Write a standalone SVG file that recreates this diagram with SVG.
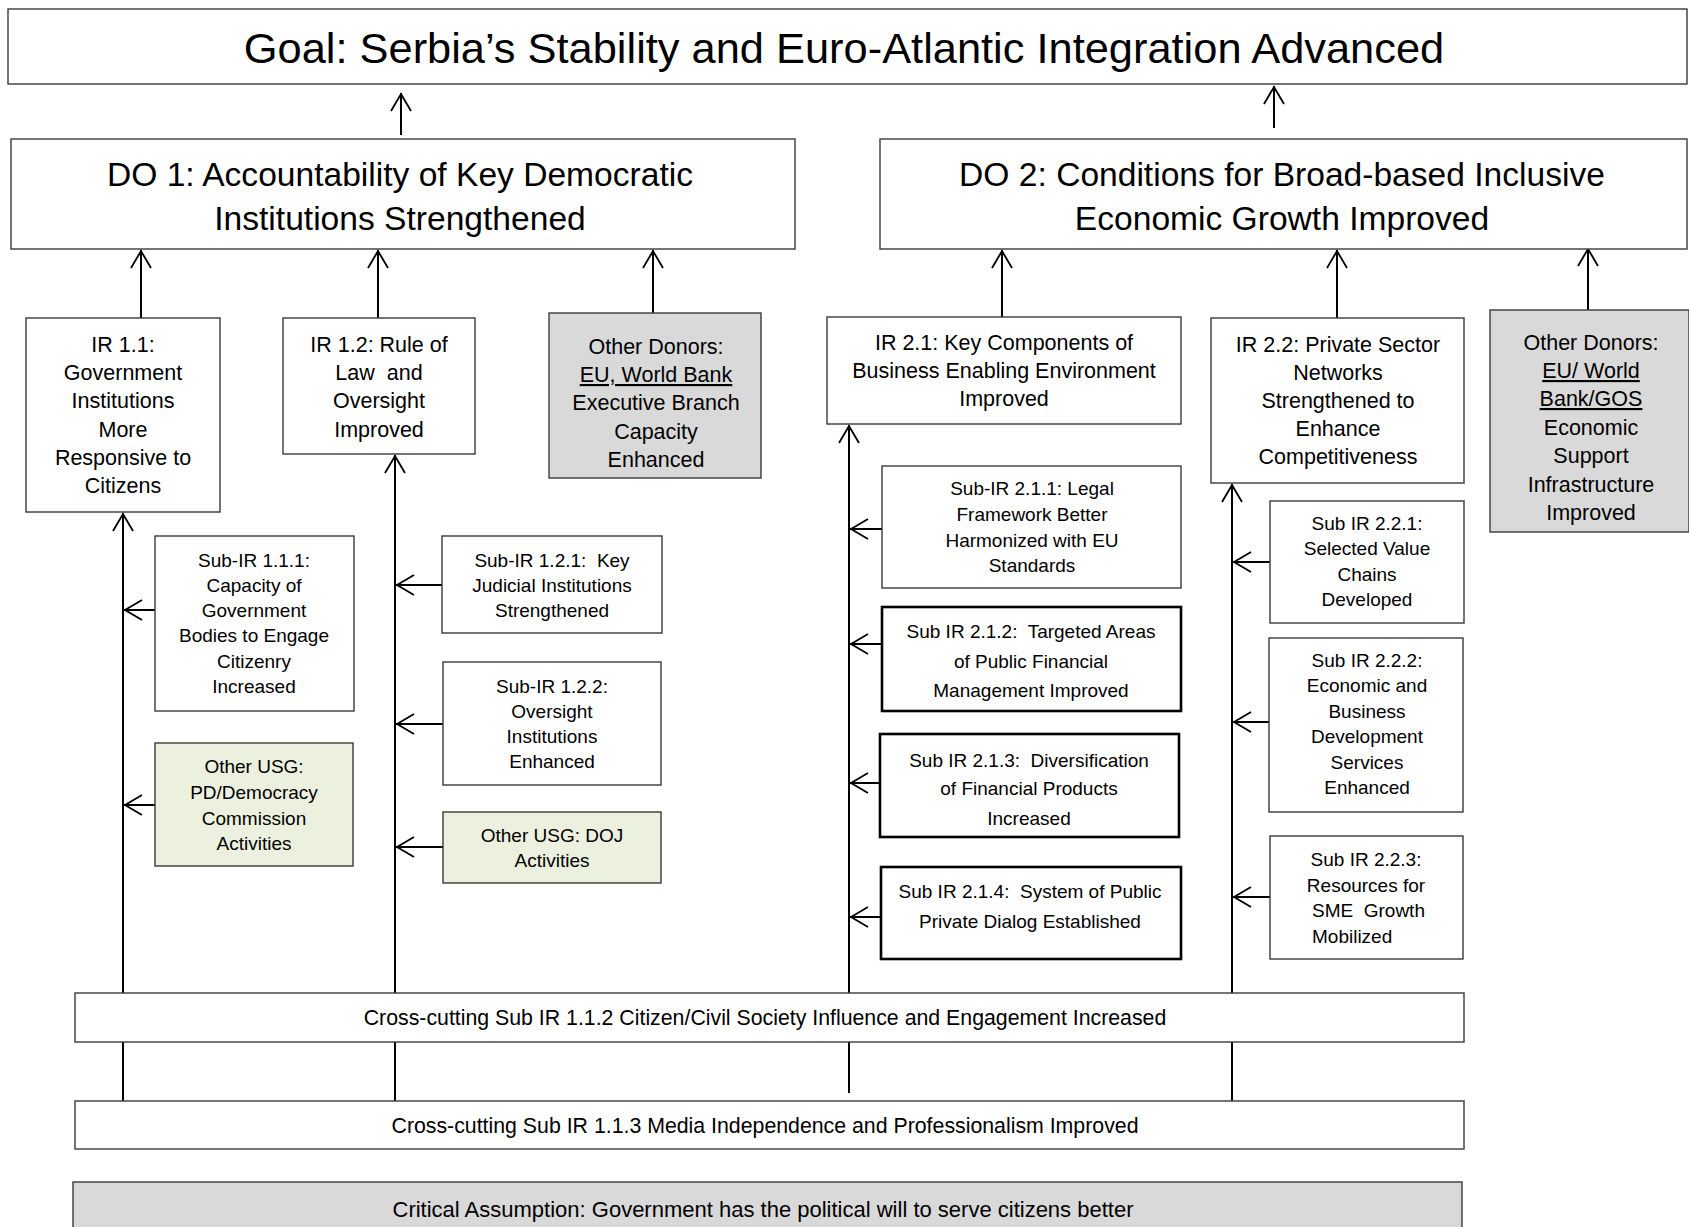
<svg xmlns="http://www.w3.org/2000/svg" width="1689" height="1227" viewBox="0 0 1689 1227">
<style>
text{font-family:"Liberation Sans",Arial,sans-serif;fill:#000;text-anchor:middle}
.box{fill:#fff;stroke:#3a3a3a;stroke-width:1.4}
.thick{fill:#fff;stroke:#000;stroke-width:2.6}
.grey{fill:#d9d9d9;stroke:#3a3a3a;stroke-width:1.4}
.green{fill:#ebf1de;stroke:#3a3a3a;stroke-width:1.4}
.tg{font-size:43.4px}
.td{font-size:33.6px}
.ti{font-size:21.5px}
.ts{font-size:19px}
.tc{font-size:21.3px}
.ta{font-size:22px}
.l{text-anchor:start}
.u{text-decoration:underline}
#connectors line{stroke:#000;stroke-width:2;marker-end:url(#ah)}
</style>
<defs>
<marker id="ah" markerUnits="userSpaceOnUse" markerWidth="30" markerHeight="30" viewBox="-22 -15 30 30" refX="0" refY="0" orient="auto">
<path d="M-18,-10 L-1,0 L-18,10" fill="none" stroke="#000" stroke-width="1.8"/>
</marker>
</defs>
<rect width="1689" height="1227" fill="#fff"/>
<g id="connectors">
<line x1="401" y1="135" x2="401" y2="93"/>
<line x1="1274" y1="128" x2="1274" y2="86"/>
<line x1="141" y1="318" x2="141" y2="250"/>
<line x1="378" y1="318" x2="378" y2="250"/>
<line x1="653" y1="313" x2="653" y2="250"/>
<line x1="1002" y1="317" x2="1002" y2="250"/>
<line x1="1337" y1="318" x2="1337" y2="250"/>
<line x1="1588" y1="310" x2="1588" y2="248"/>
<line x1="123" y1="1101" x2="123" y2="513"/>
<line x1="395" y1="1101" x2="395" y2="455"/>
<line x1="849" y1="1093" x2="849" y2="425"/>
<line x1="1232" y1="1101" x2="1232" y2="484"/>
<line x1="155" y1="610" x2="124" y2="610"/>
<line x1="155" y1="805" x2="124" y2="805"/>
<line x1="442" y1="585" x2="396" y2="585"/>
<line x1="443" y1="724" x2="396" y2="724"/>
<line x1="443" y1="847" x2="396" y2="847"/>
<line x1="882" y1="529" x2="850" y2="529"/>
<line x1="882" y1="644" x2="850" y2="644"/>
<line x1="880" y1="783" x2="850" y2="783"/>
<line x1="881" y1="917" x2="850" y2="917"/>
<line x1="1270" y1="562" x2="1233" y2="562"/>
<line x1="1269" y1="722" x2="1233" y2="722"/>
<line x1="1270" y1="897" x2="1233" y2="897"/>
</g>
<g id="goal">
<rect class="box" x="8" y="9" width="1679" height="75"/>
<text class="tg" x="844" y="63">Goal: Serbia’s Stability and Euro-Atlantic Integration Advanced</text>
</g>
<g id="do1">
<rect class="box" x="11" y="139" width="784" height="110"/>
<text class="td" x="400" y="186">DO 1: Accountability of Key Democratic</text>
<text class="td" x="400" y="230">Institutions Strengthened</text>
</g>
<g id="do2">
<rect class="box" x="880" y="139" width="807" height="110"/>
<text class="td" x="1282" y="186">DO 2: Conditions for Broad-based Inclusive</text>
<text class="td" x="1282" y="230">Economic Growth Improved</text>
</g>
<g id="ir11">
<rect class="box" x="26" y="318" width="194" height="194"/>
<text class="ti" x="123" y="352">IR 1.1:</text>
<text class="ti" x="123" y="380">Government</text>
<text class="ti" x="123" y="408">Institutions</text>
<text class="ti" x="123" y="437">More</text>
<text class="ti" x="123" y="465">Responsive to</text>
<text class="ti" x="123" y="493">Citizens</text>
</g>
<g id="ir12">
<rect class="box" x="283" y="318" width="192" height="136"/>
<text class="ti" x="379" y="352">IR 1.2: Rule of</text>
<text class="ti" x="379" y="380" xml:space="preserve">Law  and</text>
<text class="ti" x="379" y="408">Oversight</text>
<text class="ti" x="379" y="437">Improved</text>
</g>
<g id="od1">
<rect class="grey" x="549" y="313" width="212" height="165"/>
<text class="ti" x="656" y="354">Other Donors:</text>
<text class="ti u" x="656" y="382">EU, World Bank</text>
<text class="ti" x="656" y="410">Executive Branch</text>
<text class="ti" x="656" y="439">Capacity</text>
<text class="ti" x="656" y="467">Enhanced</text>
</g>
<g id="ir21">
<rect class="box" x="827" y="317" width="354" height="107"/>
<text class="ti" x="1004" y="350">IR 2.1: Key Components of</text>
<text class="ti" x="1004" y="378">Business Enabling Environment</text>
<text class="ti" x="1004" y="406">Improved</text>
</g>
<g id="ir22">
<rect class="box" x="1211" y="318" width="253" height="165"/>
<text class="ti" x="1338" y="352">IR 2.2: Private Sector</text>
<text class="ti" x="1338" y="380">Networks</text>
<text class="ti" x="1338" y="408">Strengthened to</text>
<text class="ti" x="1338" y="436">Enhance</text>
<text class="ti" x="1338" y="464">Competitiveness</text>
</g>
<g id="od2">
<rect class="grey" x="1490" y="310" width="199" height="222"/>
<text class="ti" x="1591" y="350">Other Donors:</text>
<text class="ti u" x="1591" y="378">EU/ World</text>
<text class="ti u" x="1591" y="406">Bank/GOS</text>
<text class="ti" x="1591" y="435">Economic</text>
<text class="ti" x="1591" y="463">Support</text>
<text class="ti" x="1591" y="492">Infrastructure</text>
<text class="ti" x="1591" y="520">Improved</text>
</g>
<g id="sub111">
<rect class="box" x="155" y="536" width="199" height="175"/>
<text class="ts" x="254" y="567">Sub-IR 1.1.1:</text>
<text class="ts" x="254" y="592">Capacity of</text>
<text class="ts" x="254" y="617">Government</text>
<text class="ts" x="254" y="642">Bodies to Engage</text>
<text class="ts" x="254" y="668">Citizenry</text>
<text class="ts" x="254" y="693">Increased</text>
</g>
<g id="usg-pd">
<rect class="green" x="155" y="743" width="198" height="123"/>
<text class="ts" x="254" y="773">Other USG:</text>
<text class="ts" x="254" y="799">PD/Democracy</text>
<text class="ts" x="254" y="825">Commission</text>
<text class="ts" x="254" y="850">Activities</text>
</g>
<g id="sub121">
<rect class="box" x="442" y="536" width="220" height="97"/>
<text class="ts" x="552" y="567" xml:space="preserve">Sub-IR 1.2.1:  Key</text>
<text class="ts" x="552" y="592">Judicial Institutions</text>
<text class="ts" x="552" y="617">Strengthened</text>
</g>
<g id="sub122">
<rect class="box" x="443" y="662" width="218" height="123"/>
<text class="ts" x="552" y="693">Sub-IR 1.2.2:</text>
<text class="ts" x="552" y="718">Oversight</text>
<text class="ts" x="552" y="743">Institutions</text>
<text class="ts" x="552" y="768">Enhanced</text>
</g>
<g id="usg-doj">
<rect class="green" x="443" y="812" width="218" height="71"/>
<text class="ts" x="552" y="842">Other USG: DOJ</text>
<text class="ts" x="552" y="867">Activities</text>
</g>
<g id="sub211">
<rect class="box" x="882" y="466" width="299" height="122"/>
<text class="ts" x="1032" y="495">Sub-IR 2.1.1: Legal</text>
<text class="ts" x="1032" y="521">Framework Better</text>
<text class="ts" x="1032" y="547">Harmonized with EU</text>
<text class="ts" x="1032" y="572">Standards</text>
</g>
<g id="sub212">
<rect class="thick" x="882" y="607" width="299" height="104"/>
<text class="ts" x="1031" y="638" xml:space="preserve">Sub IR 2.1.2:  Targeted Areas</text>
<text class="ts" x="1031" y="668">of Public Financial</text>
<text class="ts" x="1031" y="697">Management Improved</text>
</g>
<g id="sub213">
<rect class="thick" x="880" y="734" width="299" height="103"/>
<text class="ts" x="1029" y="767" xml:space="preserve">Sub IR 2.1.3:  Diversification</text>
<text class="ts" x="1029" y="795">of Financial Products</text>
<text class="ts" x="1029" y="825">Increased</text>
</g>
<g id="sub214">
<rect class="thick" x="881" y="867" width="300" height="92"/>
<text class="ts" x="1030" y="898" xml:space="preserve">Sub IR 2.1.4:  System of Public</text>
<text class="ts" x="1030" y="928">Private Dialog Established</text>
</g>
<g id="sub221">
<rect class="box" x="1270" y="501" width="194" height="122"/>
<text class="ts" x="1367" y="530">Sub IR 2.2.1:</text>
<text class="ts" x="1367" y="555">Selected Value</text>
<text class="ts" x="1367" y="581">Chains</text>
<text class="ts" x="1367" y="606">Developed</text>
</g>
<g id="sub222">
<rect class="box" x="1269" y="638" width="194" height="174"/>
<text class="ts" x="1367" y="667">Sub IR 2.2.2:</text>
<text class="ts" x="1367" y="692">Economic and</text>
<text class="ts" x="1367" y="718">Business</text>
<text class="ts" x="1367" y="743">Development</text>
<text class="ts" x="1367" y="769">Services</text>
<text class="ts" x="1367" y="794">Enhanced</text>
</g>
<g id="sub223">
<rect class="box" x="1270" y="836" width="193" height="123"/>
<text class="ts" x="1366" y="866">Sub IR 2.2.3:</text>
<text class="ts" x="1366" y="892">Resources for</text>
<text class="ts l" x="1312" y="917" xml:space="preserve">SME  Growth</text>
<text class="ts l" x="1312" y="943">Mobilized</text>
</g>
<g id="cc1">
<rect class="box" x="75" y="993" width="1389" height="49"/>
<text class="tc" x="765" y="1025">Cross-cutting Sub IR 1.1.2 Citizen/Civil Society Influence and Engagement Increased</text>
</g>
<g id="cc2">
<rect class="box" x="75" y="1101" width="1389" height="48"/>
<text class="tc" x="765" y="1133">Cross-cutting Sub IR 1.1.3 Media Independence and Professionalism Improved</text>
</g>
<g id="assumption">
<rect class="grey" x="73" y="1182" width="1389" height="60"/>
<text class="ta" x="763" y="1217">Critical Assumption: Government has the political will to serve citizens better</text>
</g>
</svg>
